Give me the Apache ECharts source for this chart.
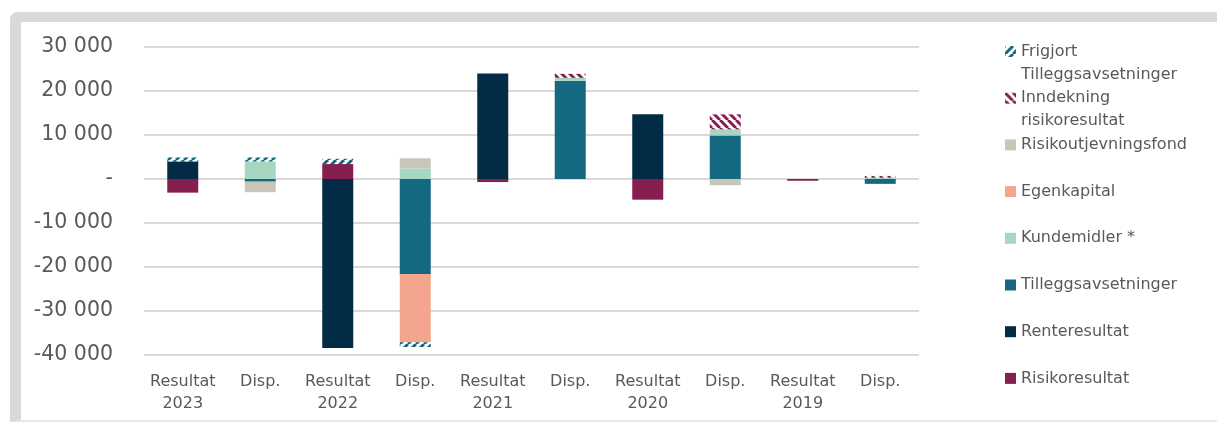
<!DOCTYPE html>
<html>
<head>
    <meta charset="UTF-8">
    <title>Resultat og disponering</title>
    <style>
        * {
            margin: 0;
            padding: 0
        }

        body {
            background: #fff;
            overflow: hidden;
        }

        .frame {
            position: absolute;
            left: 10px;
            top: 12px;
            width: 1220px;
            height: 398px;
            border-top: 10px solid #d9d9d9;
            border-left: 11px solid #d9d9d9;
            border-bottom: 2px solid #e8e8e8;
            border-top-left-radius: 8px;
        }

        .bar {
            position: absolute;
            left: 0;
            top: 0;
            width: 1217px;
            height: 424px;
        }
    </style>
</head>
<body>
<div class="frame"></div>
<div class="bar" id="bar"></div>
<script type="text/javascript" src="https://cdn.jsdelivr.net/npm/echarts@6/dist/echarts.min.js"></script>
<script type="text/javascript">
    // kategorier
    var categories = ['Resultat\n2023', 'Disp.', 'Resultat\n2022', 'Disp.', 'Resultat\n2021',
        'Disp.', 'Resultat\n2020', 'Disp.', 'Resultat\n2019', 'Disp.'];

    // serier (lest av bildet, i MNOK)
    var risikoresultat = [-3100, 0, 3400, 0, -700, 0, -4700, 0, -400, 0];
    var renteresultat = [4000, 0, -38400, 0, 24000, 0, 14700, 0, 0, 0];
    var tilleggsavsetninger = [0, -600, 0, -21600, 0, 22300, 0, 9900, 0, -1100];
    var kundemidler = [0, 4000, 0, 2400, 0, 700, 0, 1400, 0, 300];
    var egenkapital = [0, 0, 0, -15500, 0, 0, 0, 0, 0, 0];
    var risikoutjevningsfond = [0, -2400, 0, 2300, 0, 0, 0, -1400, 0, 0];
    var inndekning = [0, 0, 0, 0, 0, 900, 0, 3400, 0, 400];
    var frigjort = [900, 900, 1200, -1100, 0, 0, 0, 0, 0, 0];

    var legendOrder = ['Frigjort\nTilleggsavsetninger', 'Inndekning\nrisikoresultat', 'Risikoutjevningsfond',
        'Egenkapital', 'Kundemidler *', 'Tilleggsavsetninger', 'Renteresultat', 'Risikoresultat'];

    //skravert mønster
    function hatch(color, back) {
        var c = document.createElement('canvas');
        c.width = 8;
        c.height = 8;
        var ctx = c.getContext('2d');
        ctx.fillStyle = '#ffffff';
        ctx.fillRect(0, 0, 8, 8);
        ctx.strokeStyle = color;
        ctx.lineWidth = 3;
        ctx.beginPath();
        for (var k = -8; k <= 16; k += 8) {
            if (back) {
                ctx.moveTo(k, 0);
                ctx.lineTo(k + 8, 8);
            } else {
                ctx.moveTo(k, 8);
                ctx.lineTo(k + 8, 0);
            }
        }
        ctx.stroke();
        return {image: c, repeat: 'repeat'};
    }

    function fmt(v) {
        if (v === 0) return '-';
        var s = String(Math.abs(v)).replace(/\B(?=(\d{3})+(?!\d))/g, ' ');
        return (v < 0 ? '-' : '') + s;
    }

    function serie(name, data, color) {
        return {
            name: name,
            type: 'bar',
            stack: 'tot',
            barWidth: '40%',
            data: data,
            itemStyle: {color: color},
            emphasis: {disabled: true}
        };
    }

    var myEcharts = echarts.init(document.getElementById('bar'));

    // to-linjers poster: tom linje over, slik at første linje står ved ikonet
    var legendData = legendOrder.map(function (n) {
        var twoLines = n.indexOf('\n') >= 0;
        return {
            name: n,
            textStyle: {padding: twoLines ? 0 : [23, 0, 23, 0]}
        };
    });

    var option = {
        animation: false,
        textStyle: {fontFamily: 'DejaVu Sans'},
        grid: {
            left: 144,
            right: 298,
            top: 47,
            bottom: 69
        },
        legend: {
            orient: 'vertical',
            left: 1005,
            top: 17,
            padding: 0,
            itemGap: -22.3,
            itemWidth: 11,
            itemHeight: 11,
            icon: 'rect',
            selectedMode: false,
            formatter: function (name) {
                return name.indexOf('\n') >= 0 ? '\u00a0\n' + name : name;
            },
            textStyle: {
                color: '#595959',
                fontSize: 16,
                lineHeight: 23,
                fontFamily: 'DejaVu Sans'
            },
            data: legendData
        },
        xAxis: {
            type: 'category',
            data: categories,
            axisLine: {show: false},
            axisTick: {show: false},
            axisLabel: {
                color: '#595959',
                fontSize: 16,
                lineHeight: 22,
                margin: 16,
                interval: 0
            }
        },
        yAxis: {
            type: 'value',
            min: -40000,
            max: 30000,
            interval: 10000,
            axisLine: {show: false},
            axisTick: {show: false},
            splitLine: {lineStyle: {color: '#d9d9d9', width: 2}},
            axisLabel: {
                color: '#595959',
                fontSize: 20.5,
                margin: 31,
                formatter: fmt
            }
        },
        series: [
            serie('Risikoresultat', risikoresultat, '#861f50'),
            serie('Renteresultat', renteresultat, '#022b45'),
            serie('Tilleggsavsetninger', tilleggsavsetninger, '#146880'),
            serie('Kundemidler *', kundemidler, '#a6d8c1'),
            serie('Egenkapital', egenkapital, '#f4a58e'),
            serie('Risikoutjevningsfond', risikoutjevningsfond, '#c9c6b9'),
            serie('Inndekning\nrisikoresultat', inndekning, hatch('#861f50', true)),
            serie('Frigjort\nTilleggsavsetninger', frigjort, hatch('#146880', false))
        ]
    };

    myEcharts.setOption(option);
</script>
</body>
</html>
